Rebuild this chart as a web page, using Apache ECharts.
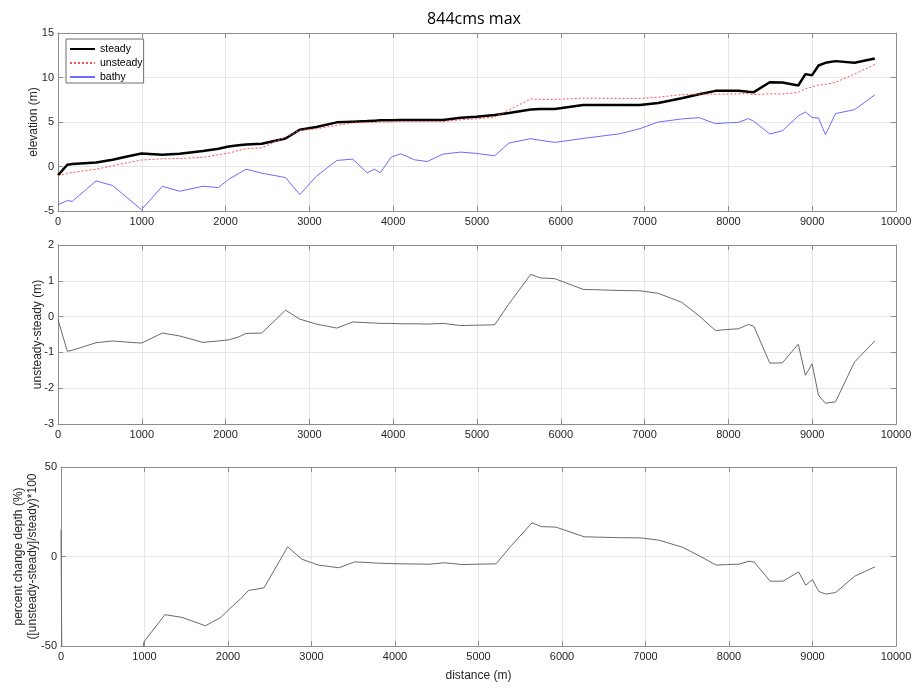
<!DOCTYPE html>
<html>
<head>
<meta charset="utf-8">
<script src="https://cdn.jsdelivr.net/npm/echarts@6/dist/echarts.min.js"></script>
<style>
html,body{margin:0;padding:0;background:#fff;}
#chart{width:915px;height:688px;}
</style>
</head>
<body>
<div id="chart"></div>
<script>
// ---- data ----
const stations = [0,111,170,455,652,810,996,1245,1450,1730,1915,2036,2154,2245,2431,2715,2885,3083,3327,3518,3689,3777,3845,3976,4088,4255,4406,4594,4806,4992,5211,5380,5641,5753,5928,6267,6705,6944,7163,7442,7651,7846,7980,8120,8239,8303,8494,8645,8834,8919,8999,9075,9158,9278,9505,9747];

const steady = [-1.0,0.2,0.28,0.45,0.75,1.1,1.45,1.32,1.43,1.75,2.0,2.25,2.4,2.48,2.56,3.15,4.13,4.44,4.96,5.04,5.1,5.15,5.19,5.2,5.23,5.23,5.23,5.23,5.49,5.6,5.79,6.0,6.4,6.45,6.47,6.92,6.92,6.92,7.14,7.67,8.12,8.5,8.5,8.5,8.4,8.35,9.47,9.44,9.1,10.38,10.26,11.35,11.65,11.84,11.65,12.14];

const unsteady = [-1.05,-0.8,-0.68,-0.3,0.08,0.4,0.72,0.87,0.9,1.03,1.33,1.5,1.8,2.0,2.1,3.3,4.06,4.23,4.63,4.9,4.93,4.96,5.0,5.02,5.03,5.03,5.03,5.05,5.25,5.36,5.56,6.35,7.58,7.53,7.53,7.68,7.65,7.64,7.79,8.07,8.13,8.12,8.14,8.16,8.18,8.08,8.17,8.15,8.33,8.74,8.94,9.15,9.23,9.46,10.38,11.46];

const bathy = [-4.29,-3.83,-3.91,-1.62,-2.14,-3.38,-4.85,-2.22,-2.78,-2.22,-2.37,-1.43,-0.8,-0.3,-0.75,-1.24,-3.15,-1.1,0.68,0.83,-0.71,-0.3,-0.71,1.05,1.43,0.75,0.56,1.39,1.62,1.47,1.2,2.63,3.12,2.95,2.71,3.15,3.68,4.25,5.0,5.34,5.49,4.81,4.9,4.96,5.38,5.08,3.65,4.02,5.68,6.13,5.5,5.45,3.57,5.94,6.39,8.05];

const diffUS = [-0.08,-0.97,-0.94,-0.73,-0.68,-0.71,-0.74,-0.46,-0.54,-0.72,-0.68,-0.65,-0.57,-0.47,-0.46,0.18,-0.07,-0.21,-0.32,-0.15,-0.17,-0.18,-0.19,-0.19,-0.2,-0.2,-0.21,-0.19,-0.25,-0.24,-0.23,0.35,1.18,1.08,1.06,0.76,0.73,0.72,0.65,0.40,0.02,-0.39,-0.36,-0.34,-0.22,-0.27,-1.30,-1.29,-0.77,-1.64,-1.32,-2.20,-2.42,-2.38,-1.27,-0.68];

const pctDepth = [15,-800,-600,-150,-120,-90,-47.5,-32.5,-34.0,-38.7,-34.0,-28.5,-23.5,-19.0,-17.5,5.4,-1.5,-4.8,-6.3,-3.0,-3.4,-3.7,-3.8,-4.0,-4.1,-4.2,-4.3,-3.5,-4.5,-4.3,-4.1,5.4,18.8,16.7,16.4,11.0,10.5,10.4,9.1,5.2,0.2,-4.8,-4.5,-4.3,-2.6,-3.2,-13.8,-13.8,-8.6,-16.0,-13.0,-19.5,-21.0,-20.1,-11.0,-5.8];

const xTicks = {min:0, max:10000, interval:1000};
const yTicks = [
  {min:-5, max:15, interval:5},
  {min:-3, max:2, interval:1},
  {min:-50, max:50, interval:50}
];
const yNames = ['elevation (m)', 'unsteady-steady (m)', 'percent change depth (%)\n([unsteady-steady]/steady)*100'];
const titleText = '844cms max';
const xName = 'distance (m)';

// ---- build ----
const pair = (ys) => stations.map((x, i) => [x, ys[i]]);
const FONT = 'Liberation Sans';
const LABEL = '#262626';
const BORDER = '#8c8c8c';
const GRIDC = '#e6e6e6';
const plain = (v) => String(v);

const grids = [
  {left:58, right:19, top:33, height:178, outerBoundsMode:'none', containLabel:false},
  {left:58, right:19, top:245, height:179, outerBoundsMode:'none', containLabel:false},
  {left:61, right:19, top:467, height:179, outerBoundsMode:'none', containLabel:false}
];
const nameGaps = [17, 13, 21];

const xAxes = [], yAxes = [];
grids.forEach((g, i) => {
  xAxes.push({
    type:'value', gridIndex:i, position:'bottom', min:xTicks.min, max:xTicks.max, interval:xTicks.interval,
    axisLine:{show:true, onZero:false, lineStyle:{color:BORDER, width:1}},
    axisTick:{show:true, inside:true, length:5, lineStyle:{color:BORDER}},
    axisLabel:{show:true, color:LABEL, fontFamily:FONT, fontSize:11, margin:5, formatter:plain},
    splitLine:{show:true, lineStyle:{color:GRIDC, width:1}},
    name: i === 2 ? xName : '', nameLocation:'middle', nameGap:24, nameMoveOverlap:false,
    nameTextStyle:{color:LABEL, fontFamily:FONT, fontSize:12}
  });
  xAxes.push({
    type:'value', gridIndex:i, position:'top', min:xTicks.min, max:xTicks.max, interval:xTicks.interval,
    axisLine:{show:true, onZero:false, lineStyle:{color:BORDER, width:1}},
    axisTick:{show:true, inside:true, length:5, lineStyle:{color:BORDER}},
    axisLabel:{show:false}, splitLine:{show:false}
  });
  yAxes.push({
    type:'value', gridIndex:i, position:'left', min:yTicks[i].min, max:yTicks[i].max, interval:yTicks[i].interval,
    axisLine:{show:true, onZero:false, lineStyle:{color:BORDER, width:1}},
    axisTick:{show:true, inside:true, length:5, lineStyle:{color:BORDER}},
    axisLabel:{show:true, color:LABEL, fontFamily:FONT, fontSize:11, margin:4, formatter:plain},
    splitLine:{show:true, lineStyle:{color:GRIDC, width:1}},
    name:yNames[i], nameLocation:'middle', nameGap:nameGaps[i], nameMoveOverlap:false,
    nameTextStyle:{color:LABEL, fontFamily:FONT, fontSize:12, lineHeight:14}
  });
  yAxes.push({
    type:'value', gridIndex:i, position:'right', min:yTicks[i].min, max:yTicks[i].max, interval:yTicks[i].interval,
    axisLine:{show:true, onZero:false, lineStyle:{color:BORDER, width:1}},
    axisTick:{show:true, inside:true, length:5, lineStyle:{color:BORDER}},
    axisLabel:{show:false}, splitLine:{show:false}
  });
});

const option = {
  animation:false,
  backgroundColor:'#fff',
  title:{text:titleText, left:469, textAlign:'center', top:6,
    textStyle:{fontFamily:'Open Sans', fontSize:16, fontWeight:'normal', color:'#000'}},
  legend:{
    orient:'vertical', left:66, top:39, itemWidth:25, itemHeight:8, itemGap:2,
    padding:[4,1,0,3], borderColor:'#6e6e6e', borderWidth:1, backgroundColor:'#fff',
    itemStyle:{opacity:0},
    textStyle:{fontFamily:FONT, fontSize:10.5, color:'#000', lineHeight:12},
    data:['steady','unsteady','bathy']
  },
  grid:grids,
  xAxis:xAxes,
  yAxis:yAxes,
  series:[
    {name:'steady', type:'line', xAxisIndex:0, yAxisIndex:0, data:pair(steady), symbol:'none',
      lineStyle:{color:'#000', width:2.5}, itemStyle:{color:'#000'}, z:5},
    {name:'unsteady', type:'line', xAxisIndex:0, yAxisIndex:0, data:pair(unsteady), symbol:'none',
      lineStyle:{color:'#ff5050', width:1, type:[2,2]}, itemStyle:{color:'#ff5050'}, z:6},
    {name:'bathy', type:'line', xAxisIndex:0, yAxisIndex:0, data:pair(bathy), symbol:'none',
      lineStyle:{color:'#6b6bff', width:1}, itemStyle:{color:'#6b6bff'}, z:4},
    {name:'diff', type:'line', xAxisIndex:2, yAxisIndex:2, data:pair(diffUS), symbol:'none',
      lineStyle:{color:'#6a6a6a', width:1}},
    {name:'pct', type:'line', xAxisIndex:4, yAxisIndex:4, data:pair(pctDepth), symbol:'none', clip:true,
      lineStyle:{color:'#6a6a6a', width:1}}
  ]
};

const chart = echarts.init(document.getElementById('chart'), null, {renderer:'canvas'});
chart.setOption(option);
</script>
</body>
</html>
